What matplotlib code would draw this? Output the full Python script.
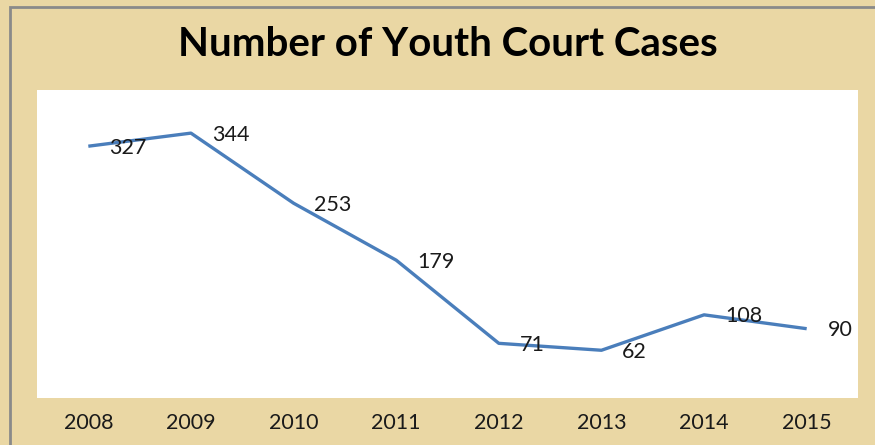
import matplotlib.pyplot as plt
from matplotlib.patches import Rectangle

years = ['2008', '2009', '2010', '2011', '2012', '2013', '2014', '2015']
cases = [327, 344, 253, 179, 71, 62, 108, 90]

plt.rcParams['font.family'] = ['Lato', 'DejaVu Sans']

fig = plt.figure(figsize=(8.75, 4.45), dpi=100)
fig.patch.set_facecolor('#ead7a4')

# grey frame on the top and left edges
fig.add_artist(Rectangle((10 / 875, -0.1), 1.2, 1 - 7 / 445 + 0.1,
                         transform=fig.transFigure, fill=False,
                         edgecolor='#8a8a8a', linewidth=2))

ax = fig.add_axes([37 / 875, 47 / 445, 821 / 875, 308 / 445])
ax.set_facecolor('white')

x = list(range(len(years)))
ax.plot(x, cases, color='#4a7ebb', linewidth=2.4, solid_capstyle='butt')

# data labels to the right of each point
for xi, v in zip(x, cases):
    ax.annotate(str(v), (xi, v), xytext=(15, -1), textcoords='offset points',
                ha='left', va='center', fontsize=15.5, color='#1a1a1a')

ax.set_xlim(-0.5, len(years) - 0.5)
ax.set_ylim(0, 400)
ax.set_xticks(x)
ax.set_xticklabels(years, fontsize=15.5, color='#1a1a1a')
ax.set_yticks([])
ax.tick_params(axis='x', length=0, pad=11)
for s in ax.spines.values():
    s.set_visible(False)

fig.text(448 / 875, 1 - 45 / 445, 'Number of Youth Court Cases',
         ha='center', va='center', fontsize=29, fontweight='bold', color='black')

fig.savefig('out.png', dpi=100, facecolor=fig.get_facecolor())
